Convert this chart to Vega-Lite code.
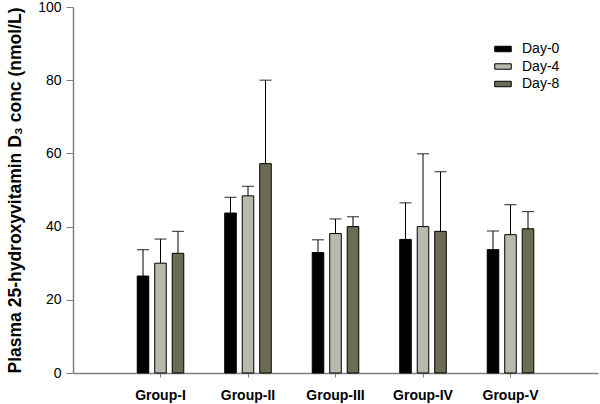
{
  "$schema": "https://vega.github.io/schema/vega-lite/v6.json",
  "width": 525,
  "height": 366,
  "autosize": "none",
  "padding": {"left": 73, "top": 7, "right": 2, "bottom": 31},
  "background": "white",
  "config": {
    "font": "Liberation Sans",
    "view": {"stroke": null}
  },
  "data": {
    "values": [
      {"group": "Group-I", "day": "Day-0", "value": 26.5, "upper": 33.7},
      {"group": "Group-I", "day": "Day-4", "value": 30.0, "upper": 36.6},
      {"group": "Group-I", "day": "Day-8", "value": 32.7, "upper": 38.7},
      {"group": "Group-II", "day": "Day-0", "value": 43.7, "upper": 48.0},
      {"group": "Group-II", "day": "Day-4", "value": 48.4, "upper": 51.0},
      {"group": "Group-II", "day": "Day-8", "value": 57.2, "upper": 80.0},
      {"group": "Group-III", "day": "Day-0", "value": 32.9, "upper": 36.4},
      {"group": "Group-III", "day": "Day-4", "value": 38.1, "upper": 42.1},
      {"group": "Group-III", "day": "Day-8", "value": 40.0, "upper": 42.7},
      {"group": "Group-IV", "day": "Day-0", "value": 36.5, "upper": 46.5},
      {"group": "Group-IV", "day": "Day-4", "value": 40.0, "upper": 59.9},
      {"group": "Group-IV", "day": "Day-8", "value": 38.7, "upper": 55.0},
      {"group": "Group-V", "day": "Day-0", "value": 33.7, "upper": 38.8},
      {"group": "Group-V", "day": "Day-4", "value": 37.8, "upper": 46.0},
      {"group": "Group-V", "day": "Day-8", "value": 39.4, "upper": 44.1}
    ]
  },
  "encoding": {
    "x": {
      "field": "group",
      "type": "nominal",
      "sort": null,
      "scale": {"paddingInner": 0.4, "paddingOuter": 0.7},
      "axis": {
        "title": null,
        "labelAngle": 0,
        "labelFontWeight": "bold",
        "labelFontSize": 14,
        "labelColor": "black",
        "labelPadding": 11,
        "tickSize": 4,
        "domainColor": "#808080",
        "tickColor": "#808080",
        "domainWidth": 1.5
      }
    },
    "xOffset": {
      "field": "day",
      "type": "nominal",
      "scale": {"paddingInner": 0.34, "paddingOuter": 0.17}
    }
  },
  "layer": [
    {
      "mark": {"type": "rule", "color": "black", "strokeWidth": 1},
      "encoding": {
        "y": {"field": "value", "type": "quantitative"},
        "y2": {"field": "upper"}
      }
    },
    {
      "mark": {"type": "tick", "color": "black", "size": 12, "thickness": 1.2},
      "encoding": {
        "y": {"field": "upper", "type": "quantitative"}
      }
    },
    {
      "mark": {"type": "bar", "stroke": "black", "strokeWidth": 1},
      "encoding": {
        "y": {
          "field": "value",
          "type": "quantitative",
          "scale": {"domain": [0, 100], "nice": false},
          "axis": {
            "title": "Plasma 25-hydroxyvitamin D₃ conc (nmol/L)",
            "titleFontSize": 17.5,
            "titleFontWeight": "bold",
            "titleColor": "black",
            "titlePadding": 13,
            "values": [0, 20, 40, 60, 80, 100],
            "labelFontSize": 14,
            "labelColor": "black",
            "labelPadding": 5,
            "tickSize": 7,
            "grid": false,
            "domainColor": "#808080",
            "tickColor": "#808080",
            "domainWidth": 1.5
          }
        },
        "color": {
          "field": "day",
          "type": "nominal",
          "scale": {"domain": ["Day-0", "Day-4", "Day-8"], "range": ["#000000", "#b9b9ad", "#6c6c54"]},
          "legend": {
            "title": null,
            "orient": "none",
            "legendX": 421,
            "legendY": 33,
            "symbolType": "M-1,-0.33H1V0.33H-1Z",
            "symbolSize": 272,
            "symbolStrokeColor": "black",
            "symbolStrokeWidth": 1,
            "symbolOpacity": 1,
            "labelFontSize": 14,
            "labelColor": "black",
            "labelOffset": 10,
            "rowPadding": 1.5
          }
        }
      }
    }
  ]
}
